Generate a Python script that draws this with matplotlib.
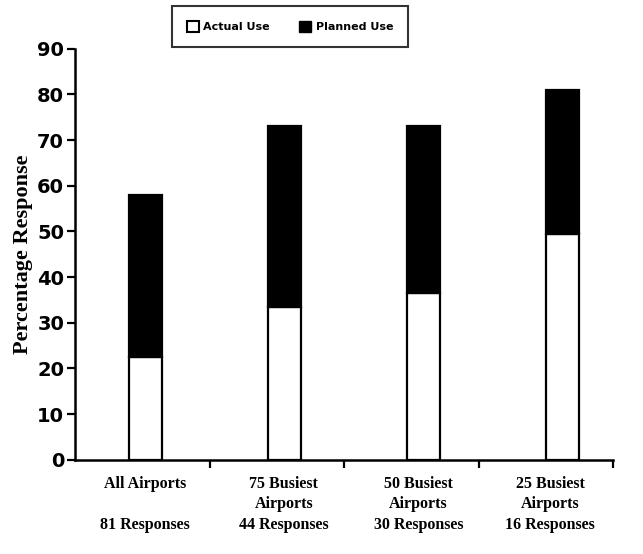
import matplotlib
matplotlib.use("Agg")
from matplotlib import pyplot as plt
from matplotlib.patches import Patch
import numpy as np

# data
groups = ["All Airports", "75 Busiest\nAirports", "50 Busiest\nAirports", "25 Busiest\nAirports"]
responses = ["81 Responses", "44 Responses", "30 Responses", "16 Responses"]
actual_use = [22.5, 33.5, 36.5, 49.5]
planned_use = [35.5, 39.5, 36.5, 31.5]

fig = plt.figure(figsize=(6.43, 5.54), dpi=100)
ax = fig.add_axes([0.117, 0.170, 0.837, 0.742])

x = np.arange(len(groups)) * 1.035 + 0.52
w = 0.245
ax.bar(x, actual_use, w, color="white", edgecolor="black", linewidth=1.6)
ax.bar(x, planned_use, w, bottom=actual_use, color="black", edgecolor="black", linewidth=1.6)

ax.set_xlim(0, 4)
ax.set_ylim(0, 90)
ax.set_yticks(range(0, 91, 10))
ax.set_xticks([1, 2, 3, 4])
ax.set_xticklabels([])
for lbl in ax.get_yticklabels():
    lbl.set_fontweight("bold")
    lbl.set_fontsize(14)
    lbl.set_family("DejaVu Sans")
ax.tick_params(axis="y", length=6, width=1.6, pad=2)
ax.tick_params(axis="x", length=6, width=1.6)

ax.spines["top"].set_visible(False)
ax.spines["right"].set_visible(False)
ax.spines["left"].set_linewidth(1.8)
ax.spines["bottom"].set_linewidth(1.8)

# category labels under the bars
label_x = [0.52, 1.55, 2.55, 3.53]
for i in range(len(groups)):
    ax.text(label_x[i], -3.6, groups[i], ha="center", va="top", fontsize=11.5,
            family="Liberation Serif", fontweight="bold", linespacing=1.3)
    ax.text(label_x[i], -12.5, responses[i], ha="center", va="top", fontsize=11.5,
            family="Liberation Serif", fontweight="bold")

ax.set_ylabel("Percentage Response", family="Liberation Serif", fontweight="bold",
              fontsize=16, labelpad=3)

handles = [Patch(facecolor="white", edgecolor="black", linewidth=1.5, label="Actual Use"),
           Patch(facecolor="black", edgecolor="black", label="Planned Use")]
leg = fig.legend(handles=handles, ncol=2, loc="center", bbox_to_anchor=(0.451, 0.952),
                 frameon=True, fancybox=False, edgecolor="black",
                 handlelength=1.1, handleheight=1.1, handletextpad=0.4,
                 columnspacing=2.6, borderpad=1.35, prop={"weight": "bold", "size": 8})
leg.get_frame().set_linewidth(1.5)

plt.savefig("out.png", dpi=100)
